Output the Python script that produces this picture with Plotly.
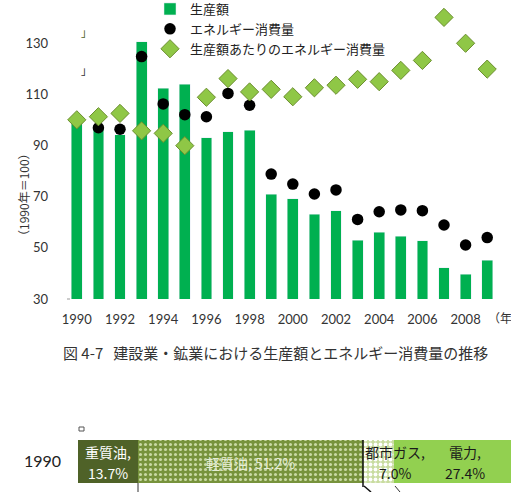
import plotly.graph_objects as go

W, H = 511, 492

years = list(range(1990, 2010))
production = [100, 96.8, 94.1, 130.5, 112.3, 113.9, 93.0, 95.4, 95.9, 70.9,
              69.1, 63.1, 64.4, 53.0, 56.0, 54.6, 52.7, 42.2, 39.6, 45.2]
energy = [100, 96.9, 96.3, 124.7, 106.2, 102.0, 101.2, 110.3, 105.7, 78.8,
          74.9, 71.0, 72.6, 61.1, 64.1, 64.8, 64.5, 58.9, 51.1, 54.0]
intensity = [100, 101.2, 102.5, 95.7, 94.7, 89.9, 108.8, 116.1, 110.9, 111.9,
             109.0, 112.5, 113.5, 115.8, 114.9, 119.3, 123.2, 140.0, 129.9, 119.8]
tick_years = list(range(1990, 2009, 2))

share_labels = ["重質油", "軽質油", "都市ガス", "電力"]
share_values = [13.7, 51.2, 7.0, 27.4]
share_year = ["1990"]

FONT = "Noto Sans CJK JP"
NUMFONT = "Lato, Noto Sans CJK JP"

def px_x(p):
    return p / W

def px_y(p):
    return 1 - p / H

fig = go.Figure()

fig.add_trace(go.Bar(x=years, y=production, name="生産額", marker_color="#00B050",
                     width=0.5, xaxis="x", yaxis="y"))
fig.add_trace(go.Scatter(x=years, y=energy, name="エネルギー消費量", mode="markers",
                         marker=dict(symbol="circle", size=11.5, color="#000000"),
                         xaxis="x", yaxis="y"))
fig.add_trace(go.Scatter(x=years, y=intensity, name="生産額あたりのエネルギー消費量",
                         mode="markers",
                         marker=dict(symbol="diamond", size=14, color="#8FC746",
                                     line=dict(color="#6B8E2E", width=1)),
                         xaxis="x", yaxis="y"))

share_colors = ["#4F6228", "#77933C", "#D7E4BD", "#92D050"]
share_patterns = [dict(shape=""),
                  dict(shape=".", fgcolor="#C9D9A4", bgcolor="#77933C", size=5, solidity=0.3, fillmode="replace"),
                  dict(shape=".", fgcolor="#FFFFFF", bgcolor="#C9DCA0", size=5, solidity=0.45, fillmode="replace"),
                  dict(shape="")]
for lab, val, col, pat in zip(share_labels, share_values, share_colors, share_patterns):
    fig.add_trace(go.Bar(x=[val], y=share_year, orientation="h", name=lab,
                         marker=dict(color=col, pattern=pat, line=dict(width=0)),
                         width=1.0, showlegend=False, xaxis="x2", yaxis="y2"))

# labels for the share bar, placed at segment midpoints (category index 0)
share_pct = [f"{v:.1f}%" for v in share_values]
share_two_lines = [True, False, True, True]
share_textcolor = ["#FFFFFF", "#E6EDD6", "#1A1A1A", "#1A1A1A"]
share_xshift = [0, 0, 17, 11]
cum = 0
share_ann = []
for lab, pct, two, val, tc, xs in zip(share_labels, share_pct, share_two_lines,
                                      share_values, share_textcolor, share_xshift):
    xm = cum + val / 2
    if two:
        share_ann.append(dict(x=xm, y=0, xref="x2", yref="y2", text=lab + ",",
                              showarrow=False, xshift=xs, yshift=10,
                              font=dict(size=14, color=tc, family=FONT)))
        share_ann.append(dict(x=xm, y=0, xref="x2", yref="y2", text=pct,
                              showarrow=False, xshift=xs, yshift=-11,
                              font=dict(size=14, color=tc, family=FONT)))
    else:
        share_ann.append(dict(x=xm, y=0, xref="x2", yref="y2", text=f"{lab}, {pct}",
                              showarrow=False, xshift=xs, yshift=-1,
                              font=dict(size=14, color=tc, family=FONT)))
    cum += val

fig.update_layout(
    width=W, height=H,
    margin=dict(l=0, r=0, t=0, b=0, autoexpand=False),
    paper_bgcolor="white", plot_bgcolor="white",
    font=dict(family=FONT, size=12, color="#333333"),
    barmode="stack",
    showlegend=True,
    legend=dict(x=px_x(150), y=px_y(64), xanchor="left", yanchor="bottom",
                xref="container", yref="container",
                traceorder="normal",
                bgcolor="rgba(0,0,0,0)", font=dict(size=13, color="#222222", family=FONT),
                itemwidth=30, tracegroupgap=0),
    xaxis=dict(domain=[px_x(66), px_x(498)], range=[1989.5, 2009.5],
               tickvals=tick_years, ticktext=[str(y) for y in tick_years],
               showgrid=False, zeroline=False, showline=False, ticks="",
               ticklabelstandoff=11, tickfont=dict(size=13, color="#333333", family=NUMFONT),
               anchor="y"),
    yaxis=dict(domain=[px_y(299), px_y(0)], range=[30, 130 + 43 / 2.56],
               tickvals=[30, 50, 70, 90, 110, 130], showgrid=False, zeroline=False,
               showline=False, ticks="", ticklabelstandoff=17,
               tickfont=dict(size=13, color="#333333", family=NUMFONT), anchor="x"),
    xaxis2=dict(domain=[px_x(78), 1.0], range=[0, (W - 78) / 4.39],
                visible=False, anchor="y2"),
    yaxis2=dict(domain=[0, px_y(432)], range=[-0.711, 0.689], type="category",
                showgrid=False, zeroline=False, showline=False, ticks="",
                ticklabelstandoff=16, tickfont=dict(size=16, color="#222222", family=NUMFONT),
                anchor="x2"),
)

annotations = [
    dict(x=px_x(13), y=px_y(145), xref="paper", yref="paper", text="（1990年＝100）",
         textangle=-90, showarrow=False, font=dict(size=12, color="#333333")),
    dict(x=px_x(486), y=px_y(317), xref="paper", yref="paper", text="（年）",
         xanchor="left", showarrow=False, font=dict(size=12, color="#333333")),
    dict(x=px_x(275), y=px_y(365), xref="paper", yref="paper",
         text="図 4-7   建設業・鉱業における生産額とエネルギー消費量の推移",
         showarrow=False, font=dict(size=15, color="#333333")),
    dict(x=px_x(79), y=px_y(22), xref="paper", yref="paper", text="」",
         showarrow=False, font=dict(size=11, color="#4F6228")),
    dict(x=px_x(79), y=px_y(60), xref="paper", yref="paper", text="」",
         showarrow=False, font=dict(size=11, color="#333333")),
] + share_ann
fig.update_layout(annotations=annotations)

shapes = [
    dict(type="line", xref="paper", yref="paper", x0=px_x(67), x1=px_x(70),
         y0=px_y(299), y1=px_y(299), line=dict(color="#999999", width=1)),
    dict(type="rect", xref="paper", yref="paper", x0=px_x(79), x1=px_x(84),
         y0=px_y(431), y1=px_y(427), line=dict(color="#555555", width=1)),
    dict(type="line", xref="paper", yref="paper", x0=px_x(138), x1=px_x(138),
         y0=px_y(483), y1=px_y(492), line=dict(color="#333333", width=1)),
    dict(type="line", xref="paper", yref="paper", x0=px_x(363), x1=px_x(363),
         y0=px_y(440), y1=px_y(487), line=dict(color="#111111", width=1.5)),
    dict(type="line", xref="paper", yref="paper", x0=px_x(364), x1=px_x(371),
         y0=px_y(486), y1=px_y(492), line=dict(color="#111111", width=1.5)),
    dict(type="line", xref="paper", yref="paper", x0=px_x(395), x1=px_x(400),
         y0=px_y(486), y1=px_y(492), line=dict(color="#333333", width=1)),
]
fig.update_layout(shapes=shapes)

fig.write_html("out.html")
